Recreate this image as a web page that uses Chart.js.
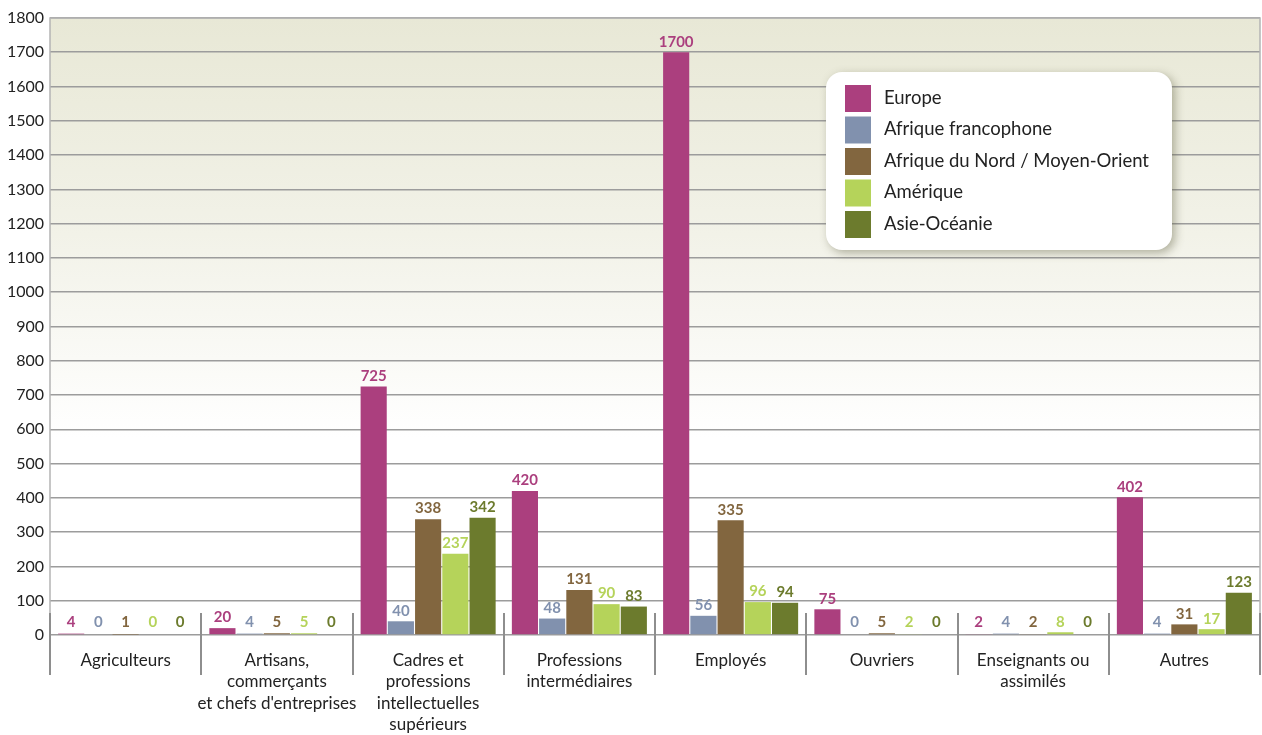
<!DOCTYPE html>
<html>
<head>
<meta charset="utf-8">
<script src="https://cdn.jsdelivr.net/npm/chart.js@4/dist/chart.umd.min.js"></script>
<style>
html,body{margin:0;padding:0;background:#fff;}
#wrap{width:1262px;height:735px;position:relative;}
</style>
</head>
<body>
<div id="wrap"><canvas id="c" width="1262" height="735"></canvas></div>
<script>
const categories = [
  ["Agriculteurs"],
  ["Artisans,", "commerçants", "et chefs d'entreprises"],
  ["Cadres et", "professions", "intellectuelles", "supérieurs"],
  ["Professions", "intermédiaires"],
  ["Employés"],
  ["Ouvriers"],
  ["Enseignants ou", "assimilés"],
  ["Autres"]
];
const seriesNames = ["Europe", "Afrique francophone", "Afrique du Nord / Moyen-Orient", "Amérique", "Asie-Océanie"];
const europe     = [4, 20, 725, 420, 1700, 75, 2, 402];
const afriqueFr  = [0, 4, 40, 48, 56, 0, 4, 4];
const afriqueNMO = [1, 5, 338, 131, 335, 5, 2, 31];
const amerique   = [0, 5, 237, 90, 96, 2, 8, 17];
const asieOce    = [0, 0, 342, 83, 94, 0, 0, 123];
const colors = ["#ab3f7e", "#8191ae", "#82663f", "#b5d35a", "#6c7b2d"];
const yMin = 0, yMax = 1800, yStep = 100;

const FONT = "Lato, 'Open Sans', sans-serif";

const bgPlugin = {
  id: 'bg',
  beforeDraw(chart) {
    const {ctx, chartArea: a} = chart;
    const g = ctx.createLinearGradient(0, a.top, 0, a.bottom);
    g.addColorStop(0, '#e8e8d6');
    g.addColorStop(0.35, '#f2f2e8');
    g.addColorStop(0.68, '#ffffff');
    g.addColorStop(1, '#ffffff');
    ctx.save();
    ctx.fillStyle = g;
    ctx.fillRect(a.left, a.top, a.right - a.left, a.bottom - a.top);
    ctx.restore();
  },
  afterDraw(chart) {
    const {ctx, chartArea: a} = chart;
    const x = chart.scales.x;
    ctx.save();
    ctx.strokeStyle = '#b4b4b4';
    ctx.lineWidth = 1.5;
    ctx.beginPath();
    ctx.moveTo(a.left, a.bottom);
    ctx.lineTo(a.left, a.top);
    ctx.lineTo(a.right, a.top);
    ctx.lineTo(a.right, a.bottom);
    ctx.stroke();
    ctx.strokeStyle = '#8e8e8e';
    ctx.lineWidth = 2;
    const n = chart.data.labels.length;
    const w = (x.right - x.left) / n;
    for (let i = 0; i <= n; i++) {
      const px = Math.round(x.left + i * w);
      ctx.beginPath();
      ctx.moveTo(px, a.bottom - 22);
      ctx.lineTo(px, a.bottom + 40);
      ctx.stroke();
    }
    ctx.restore();
  }
};

const valueLabels = {
  id: 'valueLabels',
  afterDatasetsDraw(chart) {
    const {ctx} = chart;
    ctx.save();
    ctx.font = "bold 15px " + FONT;
    ctx.textAlign = 'center';
    ctx.textBaseline = 'bottom';
    chart.data.datasets.forEach((ds, di) => {
      const meta = chart.getDatasetMeta(di);
      meta.data.forEach((bar, i) => {
        ctx.fillStyle = ds.backgroundColor;
        ctx.fillText(String(ds.data[i]), bar.x, Math.min(bar.y, chart.chartArea.bottom - 2) - 3);
      });
    });
    ctx.restore();
  }
};

const legendBox = {
  id: 'legendBox',
  afterDraw(chart) {
    const {ctx} = chart;
    const bx = 826, by = 72, bw = 346, bh = 178, r = 16;
    ctx.save();
    ctx.shadowColor = 'rgba(90,90,60,0.45)';
    ctx.shadowBlur = 10;
    ctx.shadowOffsetX = 3;
    ctx.shadowOffsetY = 3;
    ctx.fillStyle = '#ffffff';
    ctx.beginPath();
    ctx.roundRect(bx, by, bw, bh, r);
    ctx.fill();
    ctx.shadowColor = 'transparent';
    ctx.font = "18.5px " + FONT;
    ctx.textBaseline = 'middle';
    ctx.textAlign = 'left';
    chart.data.datasets.forEach((ds, i) => {
      const y = by + 13 + i * 31.5;
      ctx.fillStyle = ds.backgroundColor;
      ctx.fillRect(bx + 19, y, 26, 27);
      ctx.fillStyle = '#222';
      ctx.fillText(ds.label, bx + 58, y + 13);
    });
    ctx.restore();
  }
};

const seriesData = [europe, afriqueFr, afriqueNMO, amerique, asieOce];
new Chart(document.getElementById('c'), {
  type: 'bar',
  data: {
    labels: categories,
    datasets: seriesNames.map((name, i) => ({
      label: name,
      data: seriesData[i],
      backgroundColor: colors[i],
      borderWidth: 0,
      categoryPercentage: 0.9,
      barPercentage: 0.96
    }))
  },
  options: {
    responsive: false,
    animation: false,
    layout: {padding: {top: 18, right: 2, left: 0, bottom: 0}},
    plugins: {legend: {display: false}, tooltip: {enabled: false}},
    scales: {
      x: {
        grid: {display: false, drawTicks: false},
        border: {display: false},
        ticks: {
          color: '#222',
          font: {family: FONT, size: 17, lineHeight: 1.25},
          padding: 15,
          maxRotation: 0,
          autoSkip: false
        },
        afterFit(s) { s.height = 100; }
      },
      y: {
        min: yMin, max: yMax,
        ticks: {
          stepSize: yStep,
          color: '#222',
          font: {family: FONT, size: 16},
          padding: 6,
          callback: (v) => String(v)
        },
        grid: {color: '#9c9c9c', lineWidth: 1.6, drawTicks: false},
        border: {display: false},
        afterFit(s) { s.width = 50; }
      }
    }
  },
  plugins: [bgPlugin, valueLabels, legendBox]
});
</script>
</body>
</html>
